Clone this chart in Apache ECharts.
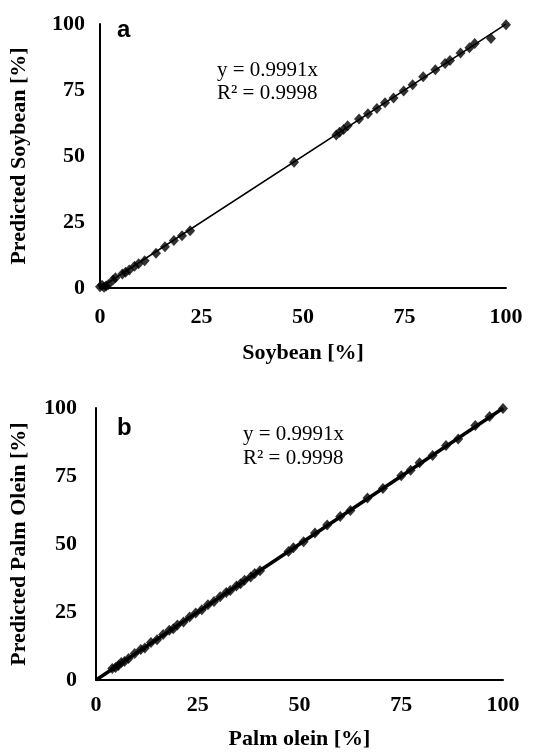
<!DOCTYPE html>
<html>
<head>
<meta charset="utf-8">
<script src="https://cdn.jsdelivr.net/npm/echarts@6/dist/echarts.min.js"></script>
<style>
html, body { margin: 0; padding: 0; background: #fff; }
#chart { width: 540px; height: 752px; }
</style>
</head>
<body>
<div id="chart"></div>
<script>
// tick labels shared by both panels
var tickValues = [0, 25, 50, 75, 100];

// panel a: soybean, actual vs predicted
var soyActual = [0, 0.5, 1, 1.5, 2, 3.2, 3.8, 5.5, 6.3, 7.2, 8.5, 9.5, 11, 13.8, 16, 18.2, 20.2, 22.2,
    47.8, 58.2, 59, 60, 61, 63.8, 66, 68.2, 70.2, 72.3, 74.8, 77, 79.6, 82.6, 85, 86.2, 88.8, 91, 92.3, 96.3, 100];
var soyPredicted = [0.5, 1, 0.3, 0.8, 1.2, 3, 3.9, 5.3, 6, 6.8, 8.2, 9.2, 10.3, 13.2, 15.6, 18, 19.8, 21.7,
    47.6, 58, 59, 60, 61.5, 64, 66, 68, 70.2, 72, 74.6, 77, 80, 82.7, 85, 86.2, 89, 91, 92.6, 94.5, 99.7];

// panel b: palm olein, actual vs predicted
var palmActual = [4, 4.8, 5.5, 6.2, 7, 8, 9.5, 11, 12, 13.5, 15, 16.5, 18, 19, 20, 21.5, 23, 24.5, 26, 27.5,
    29, 30.5, 32, 33, 34.5, 35.5, 36.5, 38, 39, 40.3, 47.3, 48.5, 51, 53.8, 56.8, 60, 62.5, 66.7, 70.5, 75,
    77.3, 79.5, 82.7, 86, 89, 93.2, 96.7, 100];
var palmPredicted = [4.2, 4.6, 5.3, 6.4, 6.8, 7.9, 9.7, 11.2, 11.8, 13.8, 14.8, 16.7, 18.3, 18.8, 20.2, 21.3, 23.2, 24.6, 25.8, 27.7,
    28.9, 30.6, 32.2, 32.9, 34.6, 35.4, 36.7, 37.9, 39.2, 40.2, 47.2, 48.6, 50.8, 54, 57, 60.1, 62.3, 66.9, 70.4, 75.1,
    77.1, 79.9, 82.5, 86.2, 88.6, 93.6, 96.9, 99.8];

// trendline y = 0.9991x
var slope = 0.9991;
var trendX = [0, 100];

function pairs(xs, ys) {
    var out = [];
    for (var i = 0; i < xs.length; i++) {
        out.push([xs[i], ys[i]]);
    }
    return out;
}

var serif = 'Liberation Serif';
var black = '#000';

function xAxis(idx, name, gap, margin) {
    return {
        gridIndex: idx, type: 'value', min: tickValues[0], max: tickValues[tickValues.length - 1], interval: 25,
        name: name, nameLocation: 'middle', nameGap: gap,
        nameTextStyle: {fontFamily: serif, fontWeight: 'bold', fontSize: 22, color: black},
        axisLine: {lineStyle: {color: black, width: 2}},
        axisTick: {show: false},
        splitLine: {show: false},
        axisLabel: {fontFamily: serif, fontWeight: 'bold', fontSize: 22, color: black, margin: margin}
    };
}
function yAxis(idx, name, gap, margin) {
    return {
        gridIndex: idx, type: 'value', min: tickValues[0], max: tickValues[tickValues.length - 1], interval: 25,
        name: name, nameLocation: 'middle', nameGap: gap,
        nameTextStyle: {fontFamily: serif, fontWeight: 'bold', fontSize: 22, color: black},
        axisLine: {show: true, lineStyle: {color: black, width: 2}},
        axisTick: {show: false},
        splitLine: {show: false},
        axisLabel: {fontFamily: serif, fontWeight: 'bold', fontSize: 22, color: black, margin: margin}
    };
}

var chart = echarts.init(document.getElementById('chart'));
var option = {
    backgroundColor: '#fff',
    animation: false,
    grid: [
        {left: 100, top: 24, width: 406, height: 264},
        {left: 96, top: 408, width: 407, height: 272}
    ],
    xAxis: [xAxis(0, 'Soybean [%]', 54, 18), xAxis(1, 'Palm olein [%]', 48, 14)],
    yAxis: [yAxis(0, 'Predicted Soybean [%]', 70, 15), yAxis(1, 'Predicted Palm Olein [%]', 66, 19)],
    graphic: [
        {type: 'text', left: 117, top: 18, style: {text: 'a', fontFamily: 'Liberation Sans', fontWeight: 'bold', fontSize: 24, fill: black}},
        {type: 'text', left: 217, top: 59, style: {text: 'y = 0.9991x\nR² = 0.9998', fontFamily: serif, fontSize: 21, lineHeight: 23, fill: black}},
        {type: 'text', left: 117, top: 416, style: {text: 'b', fontFamily: 'Liberation Sans', fontWeight: 'bold', fontSize: 24, fill: black}},
        {type: 'text', left: 243, top: 422, style: {text: 'y = 0.9991x\nR² = 0.9998', fontFamily: serif, fontSize: 21, lineHeight: 24, fill: black}}
    ],
    series: [
        {
            type: 'line', xAxisIndex: 0, yAxisIndex: 0, symbol: 'none',
            data: trendX.map(function (x) { return [x, slope * x]; }),
            lineStyle: {color: black, width: 1.5}
        },
        {
            type: 'scatter', xAxisIndex: 0, yAxisIndex: 0, symbol: 'diamond', symbolSize: [10, 11],
            data: pairs(soyActual, soyPredicted),
            itemStyle: {color: black}
        },
        {
            type: 'line', xAxisIndex: 1, yAxisIndex: 1, symbol: 'none',
            data: trendX.map(function (x) { return [x, slope * x]; }),
            lineStyle: {color: black, width: 3.5}
        },
        {
            type: 'scatter', xAxisIndex: 1, yAxisIndex: 1, symbol: 'diamond', symbolSize: [10, 11],
            data: pairs(palmActual, palmPredicted),
            itemStyle: {color: black}
        }
    ]
};
chart.setOption(option);
</script>
</body>
</html>
